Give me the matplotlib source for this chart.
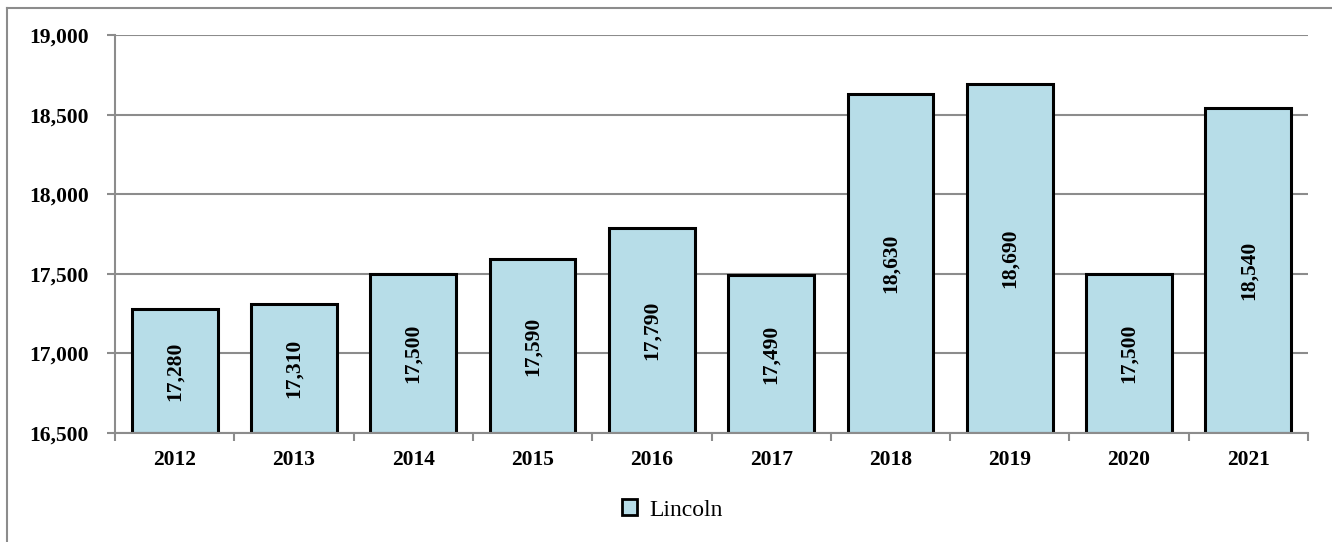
import matplotlib
matplotlib.use("Agg")
import matplotlib.pyplot as plt
from matplotlib.lines import Line2D
from matplotlib.patches import Patch
from matplotlib.ticker import FuncFormatter, FixedLocator

years = ["2012", "2013", "2014", "2015", "2016", "2017", "2018", "2019", "2020", "2021"]
values = [17280, 17310, 17500, 17590, 17790, 17490, 18630, 18690, 17500, 18540]
series_name = "Lincoln"
y_ticks = [16500, 17000, 17500, 18000, 18500, 19000]

plt.rcParams['font.family'] = ['Liberation Serif', 'DejaVu Serif']

fig = plt.figure(figsize=(13.32, 5.42), dpi=100)
ax = fig.add_axes([115/1332, 1 - 433/542, (1308 - 115)/1332, (433 - 35)/542])

grid_c = "#8c8c8c"
bar_c = "#b7dde8"

x = list(range(len(years)))
bars = ax.bar(x, [v - y_ticks[0] for v in values], bottom=y_ticks[0], width=0.72,
              color=bar_c, edgecolor="black", linewidth=2.2, zorder=3)

ax.set_xlim(-0.5, len(years) - 0.5)
ax.set_ylim(y_ticks[0], y_ticks[-1])
ax.set_yticks(y_ticks)
ax.yaxis.set_major_formatter(FuncFormatter(lambda v, p: f"{int(v):,}"))
ax.set_xticks(x)
ax.set_xticklabels(years)
ax.xaxis.set_minor_locator(FixedLocator([i - 0.5 for i in range(len(years) + 1)]))
ax.tick_params(axis='x', which='major', length=0, pad=12)
ax.tick_params(axis='x', which='minor', length=6, color=grid_c, width=1.5)
ax.tick_params(axis='y', length=6, color=grid_c, width=1.5, pad=13)
for lab in ax.get_xticklabels() + ax.get_yticklabels():
    lab.set_fontweight('bold')
    lab.set_fontsize(15.5)

ax.grid(axis='y', color=grid_c, linewidth=1.5, zorder=0)
ax.set_axisbelow(True)
for s in ["top", "right"]:
    ax.spines[s].set_visible(False)
for s in ["left", "bottom"]:
    ax.spines[s].set_color(grid_c)
    ax.spines[s].set_linewidth(1.5)
    ax.spines[s].set_zorder(4)

for xi, v in zip(x, values):
    ax.text(xi, (v + y_ticks[0]) / 2, f"{v:,}", rotation=90, ha='center', va='center',
            fontsize=15.5, fontweight='bold', zorder=5)

handle = Patch(facecolor=bar_c, edgecolor='black', linewidth=2)
fig.legend([handle], [series_name], loc='center', bbox_to_anchor=(672/1332, 1 - 510/542),
           frameon=False, fontsize=17, handlelength=0.65, handleheight=0.65, handletextpad=0.5)

# outer chart border (left and top visible)
fig.add_artist(Line2D([7/1332, 7/1332], [0, 1 - 8/542], color=grid_c, linewidth=1.5,
                      transform=fig.transFigure))
fig.add_artist(Line2D([7/1332, 1], [1 - 8/542, 1 - 8/542], color=grid_c, linewidth=1.5,
                      transform=fig.transFigure))

fig.savefig("out.png", dpi=100, facecolor='white')
